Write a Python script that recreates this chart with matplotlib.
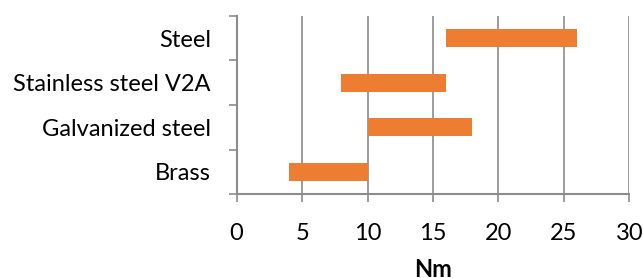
import matplotlib
matplotlib.use("Agg")
import matplotlib.pyplot as plt
import numpy as np

categories = ["Brass", "Galvanized steel", "Stainless steel V2A", "Steel"]
starts = [4, 10, 8, 16]
ends = [10, 18, 16, 26]
xticks = [0, 5, 10, 15, 20, 25, 30]

plt.rcParams['font.family'] = ['Lato', 'DejaVu Sans']
gray = "#8c8c8c"
orange = "#ED7D31"
fs = 17

fig = plt.figure(figsize=(6.43, 2.78), dpi=100)
ax = fig.add_axes([0.368, 0.301, 0.6107, 0.6425])

y = np.arange(len(categories))
widths = [e - s for s, e in zip(starts, ends)]
ax.barh(y, widths, left=starts, height=0.4, color=orange, zorder=3)

ax.set_xlim(0, 30)
ax.set_ylim(-0.5, len(categories) - 0.5)
ax.set_xticks(xticks)
ax.set_xticklabels([str(t) for t in xticks], fontsize=fs)
ax.xaxis.grid(True, color=gray, linewidth=1.2, zorder=0)
ax.set_axisbelow(True)

ax.set_yticks(np.arange(len(categories) + 1) - 0.5)
ax.set_yticklabels([])
ax.set_yticks(y, minor=True)
ax.set_yticklabels(categories, minor=True, fontsize=fs)
ax.tick_params(axis='y', which='minor', length=0, pad=18.5)
ax.tick_params(axis='y', which='major', length=6, width=1.2, color=gray, direction='out')
ax.tick_params(axis='x', length=5.5, width=1.2, color=gray, pad=15)

for s in ['top', 'right']:
    ax.spines[s].set_visible(False)
for s in ['left', 'bottom']:
    ax.spines[s].set_color(gray)
    ax.spines[s].set_linewidth(1.5)

ax.set_xlabel("Nm", fontsize=fs, fontweight='bold', labelpad=10)

fig.savefig("out.png", dpi=100)
